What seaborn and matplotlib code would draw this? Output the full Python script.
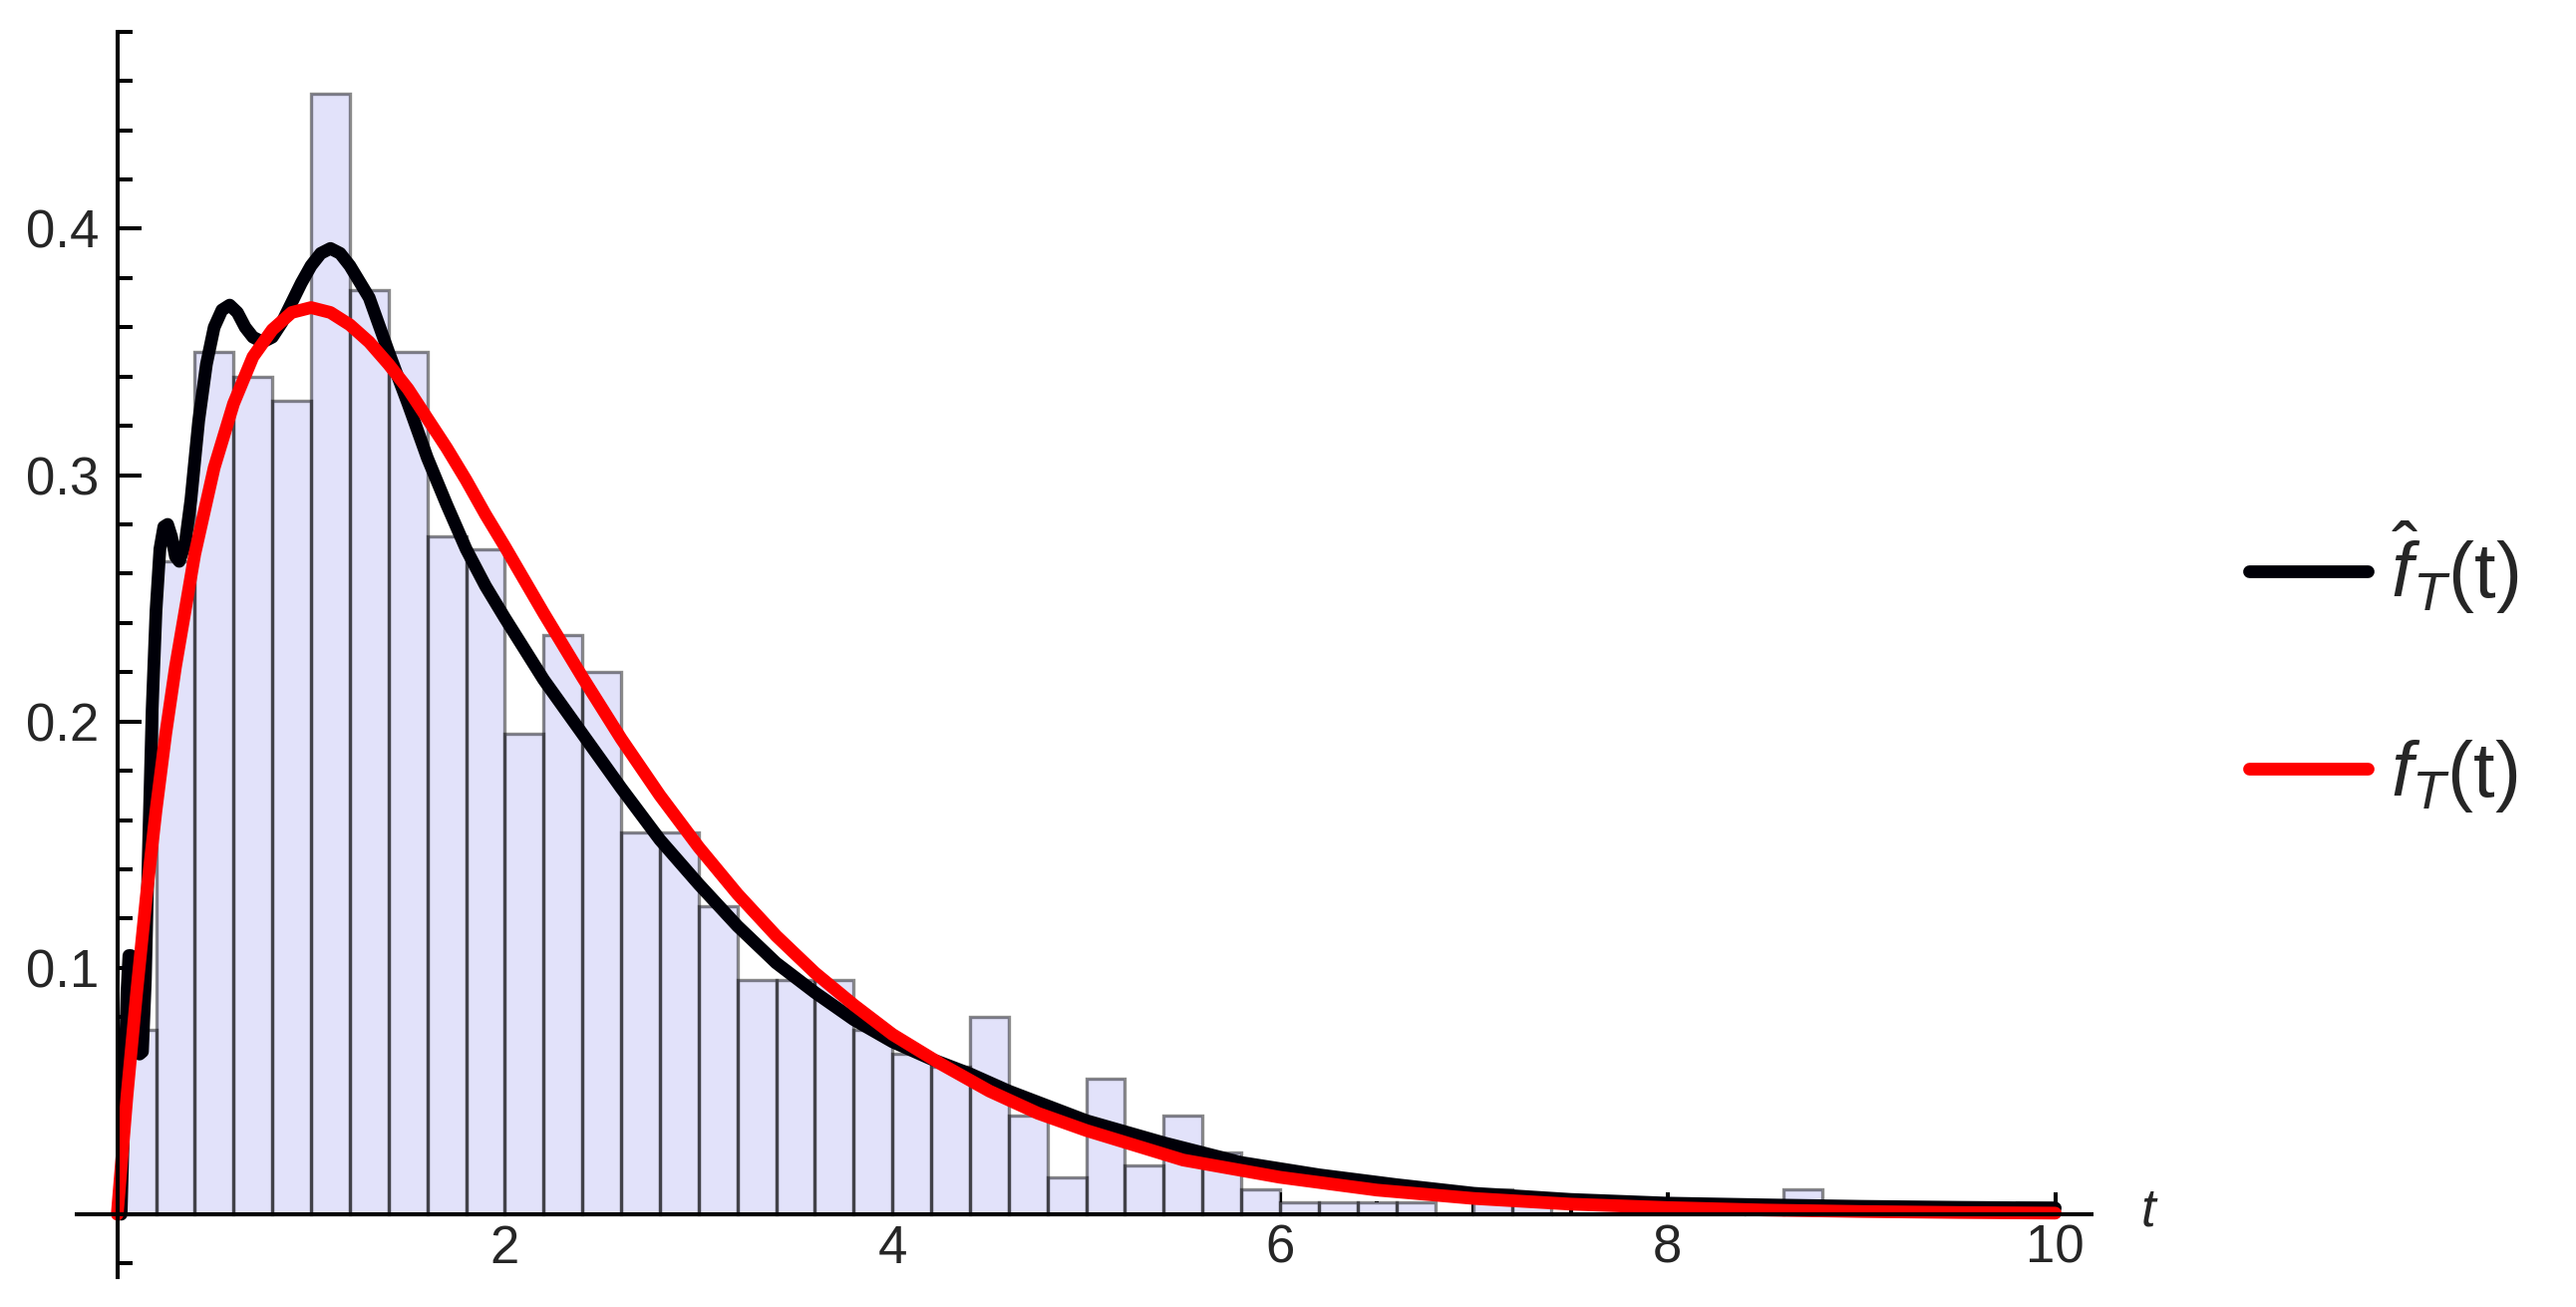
import numpy as np
import pandas as pd
import seaborn as sns
import matplotlib.pyplot as plt
from matplotlib.ticker import FixedLocator, MultipleLocator

sns.set_theme(style="white")
plt.rcParams['font.family'] = ['Liberation Sans', 'DejaVu Sans']
plt.rcParams['mathtext.fontset'] = 'custom'
plt.rcParams['mathtext.rm'] = 'Liberation Sans'
plt.rcParams['mathtext.it'] = 'Liberation Sans:italic'

# histogram: bins of width 0.2 on [0, 10], density heights
bin_width = 0.2
bin_edges = [round(0.2 * i, 2) for i in range(51)]
bar_height = [0.075, 0.265, 0.350, 0.340, 0.330, 0.455, 0.375, 0.350, 0.275, 0.270,
              0.195, 0.235, 0.220, 0.155, 0.155, 0.125, 0.095, 0.095, 0.095, 0.075,
              0.065, 0.060, 0.080, 0.040, 0.015, 0.055, 0.020, 0.040, 0.025, 0.010,
              0.005, 0.005, 0.005, 0.005, 0.000, 0.010, 0.005, 0.000, 0.000, 0.000,
              0.000, 0.000, 0.005, 0.010, 0.000, 0.000, 0.000, 0.000, 0.000, 0.005]

# estimated density (black)
est_t = [0.02, 0.035, 0.05, 0.06, 0.07, 0.085, 0.10, 0.115, 0.13, 0.145, 0.16, 0.18,
         0.20, 0.22, 0.24, 0.26, 0.28, 0.30, 0.32, 0.35, 0.38, 0.42, 0.46, 0.50, 0.54,
         0.58, 0.62, 0.66, 0.70, 0.75, 0.80, 0.85, 0.90, 0.95, 1.00, 1.05, 1.10, 1.15,
         1.20, 1.30, 1.40, 1.50, 1.60, 1.70, 1.80, 1.90, 2.0, 2.2, 2.4, 2.6, 2.8, 3.0,
         3.2, 3.4, 3.6, 3.8, 4.0, 4.2, 4.4, 4.6, 5.0, 5.4, 5.8, 6.2, 6.6, 7.0, 7.5, 8.0,
         8.5, 9.0, 9.5, 10.0]
est_f = [0.0, 0.045, 0.090, 0.105, 0.105, 0.090, 0.075, 0.065, 0.066, 0.095, 0.145, 0.205,
         0.245, 0.270, 0.279, 0.280, 0.275, 0.267, 0.265, 0.272, 0.290, 0.322, 0.345, 0.360,
         0.367, 0.369, 0.366, 0.360, 0.356, 0.354, 0.356, 0.362, 0.370, 0.378, 0.385, 0.390,
         0.392, 0.390, 0.385, 0.372, 0.350, 0.329, 0.307, 0.288, 0.270, 0.255, 0.242, 0.217,
         0.195, 0.173, 0.152, 0.134, 0.117, 0.102, 0.090, 0.079, 0.070, 0.063, 0.057, 0.050,
         0.038, 0.029, 0.021, 0.016, 0.012, 0.0085, 0.006, 0.0045, 0.0038, 0.0032, 0.0028,
         0.0025]

# true density (red)
true_t = [0, 0.05, 0.1, 0.15, 0.2, 0.25, 0.3, 0.4, 0.5, 0.6, 0.7, 0.8, 0.9, 1.0, 1.1, 1.2,
          1.3, 1.4, 1.5, 1.6, 1.7, 1.8, 1.9, 2.0, 2.2, 2.4, 2.6, 2.8, 3.0, 3.2, 3.4, 3.6,
          3.8, 4.0, 4.25, 4.5, 4.75, 5.0, 5.5, 6.0, 6.5, 7.0, 7.5, 8.0, 8.5, 9.0, 9.5, 10.0]
true_f = [0.0, 0.048, 0.090, 0.129, 0.164, 0.195, 0.222, 0.268, 0.303, 0.329, 0.348, 0.359,
          0.366, 0.368, 0.366, 0.361, 0.354, 0.345, 0.335, 0.323, 0.311, 0.298, 0.284, 0.271,
          0.244, 0.218, 0.193, 0.170, 0.149, 0.130, 0.113, 0.098, 0.085, 0.073, 0.061, 0.050,
          0.041, 0.034, 0.022, 0.015, 0.0098, 0.0064, 0.0041, 0.0027, 0.0017, 0.0011, 0.0007,
          0.00045]

hist_df = pd.DataFrame({"t": [e + bin_width / 2 for e in bin_edges[:-1]],
                        "density": bar_height})

fig = plt.figure(figsize=(12.92, 6.555), dpi=200)
ax = fig.add_axes([0.0298, 0.0231, 0.7821, 0.9527])

# bar faces, then the edges on their own so shared edges come out darker
sns.histplot(data=hist_df, x="t", weights="density", bins=bin_edges, stat="count",
             color="#e2e2fa", alpha=1, linewidth=0, ax=ax)
sns.histplot(data=hist_df, x="t", weights="density", bins=bin_edges, stat="count",
             fill=False, color="black", alpha=0.46, linewidth=1.2, ax=ax)

sns.lineplot(x=est_t, y=est_f, color="#000008", linewidth=4.6, estimator=None,
             sort=False, label=r"$\hat{f}_{T}$(t)", ax=ax)
sns.lineplot(x=true_t, y=true_f, color="#ff0000", linewidth=4.6, estimator=None,
             sort=False, label=r"$f_{T}$(t)", ax=ax)

ax.set_xlim(-0.209, 10.187)
ax.set_ylim(-0.0254, 0.48)

for side in ["top", "right"]:
    ax.spines[side].set_visible(False)
ax.spines["left"].set_position(("data", 0))
ax.spines["bottom"].set_position(("data", 0))
for side in ["left", "bottom"]:
    ax.spines[side].set_color("black")
    ax.spines[side].set_linewidth(1.45)

ax.xaxis.set_major_locator(FixedLocator([2, 4, 6, 8, 10]))
ax.xaxis.set_minor_locator(MultipleLocator(0.5))
ax.yaxis.set_major_locator(FixedLocator([0.1, 0.2, 0.3, 0.4]))
ax.yaxis.set_minor_locator(MultipleLocator(0.02))
ax.set_xticklabels(["2", "4", "6", "8", "10"])
ax.set_yticklabels(["0.1", "0.2", "0.3", "0.4"])
ax.tick_params(axis="x", which="major", direction="in", length=8, width=1.45,
               color="black", labelsize=19, pad=3.5, bottom=True)
ax.tick_params(axis="x", which="minor", direction="in", length=4.7, width=1.45,
               color="black", bottom=True)
ax.tick_params(axis="y", which="major", direction="in", length=8.6, width=1.45,
               color="black", labelsize=19, pad=6.5, left=True)
ax.tick_params(axis="y", which="minor", direction="in", length=5.4, width=1.45,
               color="black", left=True)

ax.set_ylabel("")
ax.set_xlabel("t", fontstyle="italic", fontsize=19)
ax.xaxis.set_label_coords(1.028, 0.052)
ax.xaxis.label.set_va("center")

handles, labels = ax.get_legend_handles_labels()
ax.legend(handles, labels, loc="center left", bbox_to_anchor=(2256 / 2584, 0.49),
          bbox_transform=fig.transFigure, frameon=False, fontsize=28,
          handlelength=1.53, handletextpad=0.3, labelspacing=1.56,
          borderpad=0, borderaxespad=0)

fig.savefig("out.png", dpi=200)
